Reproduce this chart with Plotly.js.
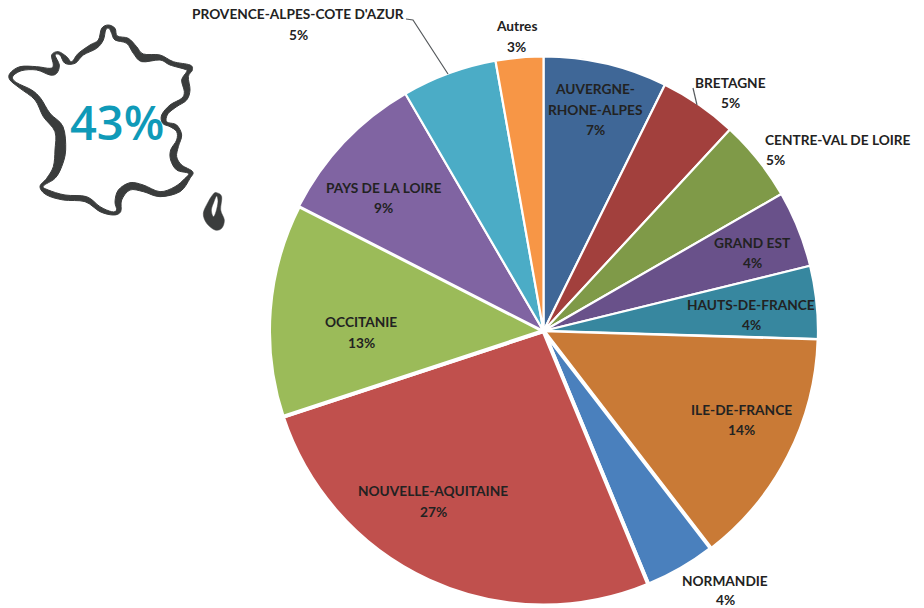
<!DOCTYPE html>
<html><head><meta charset="utf-8">
<script src="https://cdn.plot.ly/plotly-3.0.1.min.js"></script>
<style>html,body{margin:0;padding:0;background:#fff}#c{width:924px;height:608px}</style>
</head><body><div id="c"></div>
<script>
// --- data ---
const regions = ["AUVERGNE-<br>RHONE-ALPES","BRETAGNE","CENTRE-VAL DE LOIRE","GRAND EST","HAUTS-DE-FRANCE","ILE-DE-FRANCE","NORMANDIE","NOUVELLE-AQUITAINE","OCCITANIE","PAYS DE LA LOIRE","PROVENCE-ALPES-COTE D'AZUR","Autres"];
const shares = [7.3,4.6,4.8,4.5,4.3,14.1,4.2,26.2,12.6,9.1,5.6,2.8];
const percentLabels = ["7%","5%","5%","4%","4%","14%","4%","27%","13%","9%","5%","3%"];
const colors = ["#3f6797","#a2403d","#7f9a48","#69518a","#37879f","#c97a36","#4a80bd","#c0504d","#9bbb59","#8064a2","#4bacc6","#f79646"];
const edgeWidths = [2.2,2.2,2.2,2.2,2.2,2.6,4,4,4,2.2,2.2,2.2];
const headline = "43%";

// --- layout helpers (pixel positions) ---
const W = 924, H = 608;
const px = x => x / W, py = y => 1 - y / H;
const nameAnchors = [[595,88],[730,82],[838,139],[752,242],[751,304],[741,409],[725,580],[433,490],[361,321],[383,187],[298,14],[516,26]];
const pctAnchors  = [[595,129],[730,102],[775,159],[752,262],[751,324],[741,429],[725,599],[433,511],[361,342],[383,208],[298,34],[516,46]];
const LINE = 21;

// France outline, traced in zoom units (x/3, y/3+10 gives page pixels)
const mapOuter = [[325,45],[345,55],[352,78],[385,85],[410,110],[430,132],[480,135],[520,155],[570,165],[577,180],[565,200],[570,240],[560,270],[530,290],[505,310],[498,330],[505,338],[530,345],[545,375],[535,410],[530,440],[545,465],[578,485],[570,505],[540,545],[480,560],[430,545],[390,540],[365,570],[362,605],[340,615],[300,605],[255,575],[190,570],[140,555],[120,530],[140,505],[160,470],[165,420],[165,365],[130,320],[105,270],[60,235],[30,210],[30,190],[60,170],[110,170],[150,175],[160,165],[155,135],[175,125],[200,140],[215,155],[235,130],[270,105],[295,90],[305,55]];
const mapInner = [[327,55],[335,70],[345,90],[380,100],[400,130],[425,155],[480,150],[510,165],[555,178],[560,185],[545,210],[553,245],[545,265],[510,285],[485,315],[488,340],[510,350],[530,365],[530,390],[512,420],[512,450],[530,480],[565,490],[555,505],[525,530],[480,545],[430,525],[390,518],[355,540],[345,575],[350,600],[335,605],[300,590],[260,560],[195,555],[145,540],[130,528],[165,505],[185,470],[197,420],[189,350],[150,310],[122,265],[95,240],[50,218],[38,200],[65,182],[110,180],[150,195],[170,190],[178,165],[165,135],[180,135],[195,160],[225,160],[250,135],[290,115],[310,90],[317,60]];
const corsicaOuter = [[650,548],[665,560],[662,600],[673,630],[665,655],[645,660],[620,640],[610,610],[625,575],[640,552]];
const corsicaInner = [[650,558],[654,575],[648,605],[640,620],[634,600],[642,575]];

function smooth(pts){
  const P = pts.map(p => [p[0]/3, p[1]/3 + 10]), n = P.length;
  const f = (x,y) => px(x).toFixed(5) + "," + py(y).toFixed(5);
  let d = "M" + f(P[0][0],P[0][1]);
  for (let i=0;i<n;i++){
    const p0=P[(i-1+n)%n],p1=P[i],p2=P[(i+1)%n],p3=P[(i+2)%n];
    d += " C" + f(p1[0]+(p2[0]-p0[0])/6,p1[1]+(p2[1]-p0[1])/6) + " " +
         f(p2[0]-(p3[0]-p1[0])/6,p2[1]-(p3[1]-p1[1])/6) + " " + f(p2[0],p2[1]);
  }
  return d + " Z";
}
const ink = "#3a3c3c";
const line = (pts) => ({type:"path",xref:"paper",yref:"paper",
  path:"M"+pts.map(p=>px(p[0]).toFixed(5)+","+py(p[1]).toFixed(5)).join(" L"),
  line:{color:"#55595c",width:1.2},fillcolor:"rgba(0,0,0,0)"});

const shapes = [
  {type:"path",xref:"paper",yref:"paper",path:smooth(mapOuter)+" "+smooth(mapInner),fillcolor:ink,line:{width:1,color:ink}},
  {type:"path",xref:"paper",yref:"paper",path:smooth(corsicaOuter)+" "+smooth(corsicaInner),fillcolor:ink,line:{width:0.5,color:ink}},
  line([[406,19],[413,20],[448,74]]),
  line([[693,88],[697,105]])
];

const labelFont = {family:"Lato, 'Open Sans', sans-serif",size:13.7,color:"#222222",weight:700};
const annotations = [];
const put = (t,x,y,font) => annotations.push({text:t,xref:"paper",yref:"paper",x:px(x),y:py(y),xanchor:"center",yanchor:"middle",showarrow:false,font:font||labelFont,borderpad:0});
regions.forEach((r,i)=>{
  r.split("<br>").forEach((t,k)=>put(t,nameAnchors[i][0],nameAnchors[i][1]+k*LINE));
  put(percentLabels[i],pctAnchors[i][0],pctAnchors[i][1]);
});
put(headline,117,122,{family:"'Open Sans', sans-serif",size:47,color:"#0f9ab8",weight:600});

const cx=543.5, cy=331, R=274.5;
Plotly.newPlot("c",[{
  type:"pie",labels:regions,values:shares,sort:false,direction:"clockwise",rotation:0,
  textinfo:"none",hoverinfo:"label+percent",showlegend:false,
  marker:{colors:colors,line:{color:"#ffffff",width:edgeWidths}},
  domain:{x:[(cx-R)/W,(cx+R)/W],y:[1-(cy+R)/H,1-(cy-R)/H]}
}],{
  width:W,height:H,margin:{l:0,r:0,t:0,b:0},paper_bgcolor:"#fff",showlegend:false,
  shapes:shapes,annotations:annotations
},{displayModeBar:false,staticPlot:true});
</script></body></html>
